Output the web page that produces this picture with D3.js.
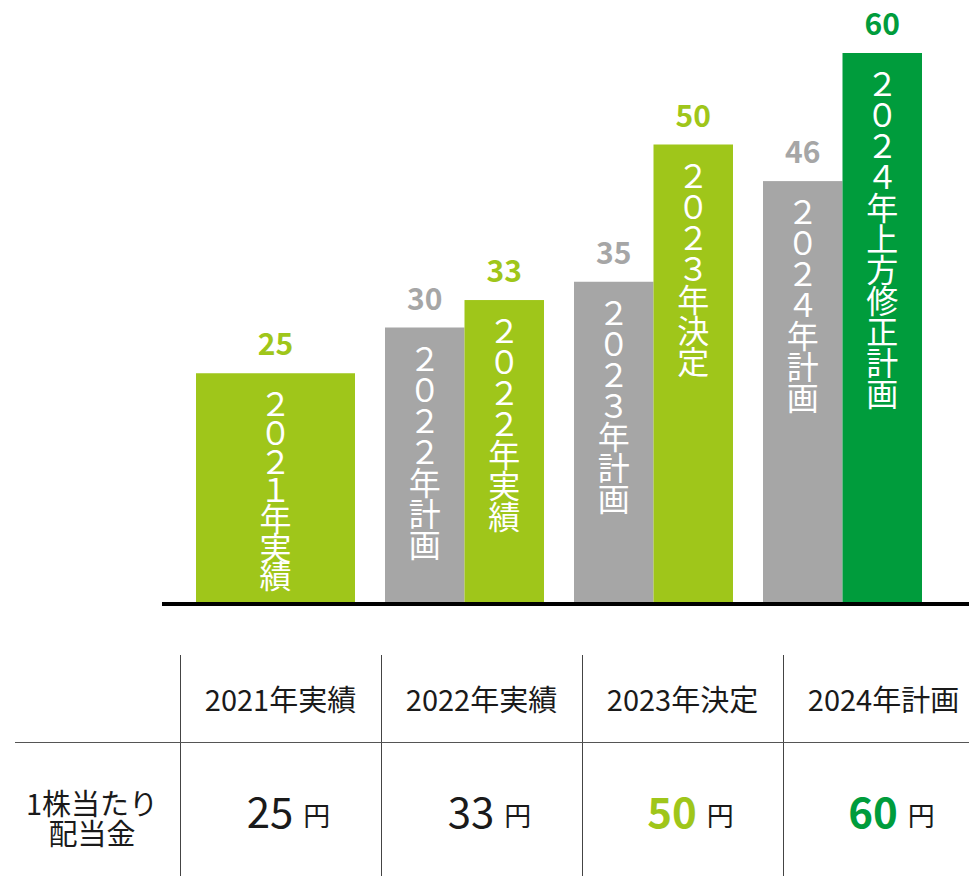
<!DOCTYPE html>
<html>
<head>
<meta charset="utf-8">
<script src="https://cdn.jsdelivr.net/npm/d3@7"></script>
<style>
  html, body { margin: 0; padding: 0; background: #fff; }
  svg { display: block; font-family: 'Noto Sans CJK JP', 'Noto Sans', sans-serif; }
</style>
</head>
<body>
<div id="chart-container"></div>
<script>
// --- data ---
const years = ['2021', '2022', '2023', '2024'];
const barYears = ['2021', '2022', '2022', '2023', '2023', '2024', '2024'];
const barLabels = ['2021年実績', '2022年計画', '2022年実績', '2023年計画', '2023年決定', '2024年計画', '2024年上方修正計画'];
const barValues = [25, 30, 33, 35, 50, 46, 60];
const barKinds = ['actual', 'plan', 'actual', 'plan', 'actual', 'plan', 'revised'];

const tableHeaders = ['2021年実績', '2022年実績', '2023年決定', '2024年計画'];
const tableValues = [25, 33, 50, 60];
const tableKinds = ['plain', 'plain', 'actual', 'revised'];
const rowLabel = ['1株当たり', '配当金'];
const unit = '円';

const COLORS = { actual: '#9fc61a', plan: '#a6a6a6', revised: '#009c3c', plain: '#1a1a1a' };

const WIDTH = 969;
const HEIGHT = 876;
const BASE_Y = 602;
const CHAR_STEP = 31;

const bars = barLabels.map((label, i) => ({
    label,
    year: barYears[i],
    value: barValues[i],
    kind: barKinds[i],
}));

// vertical text uses full-width digits
const toFullWidth = (s) => s.replace(/[0-9]/g, (c) => String.fromCharCode(c.charCodeAt(0) + 0xfee0));

const svg = d3
    .select('#chart-container')
    .append('svg')
    .attr('width', WIDTH)
    .attr('height', HEIGHT)
    .attr('viewBox', [0, 0, WIDTH, HEIGHT]);

const x = d3.scaleBand().domain(years).range([196, 922]).paddingInner(30 / 189);
const y = d3.scaleLinear().domain([0, 60]).range([BASE_Y, 53]);

// position of a bar inside its year group
const barX = (d) => {
    const siblings = bars.filter((b) => b.year === d.year);
    const sub = d3.scaleBand().domain(siblings.map((b) => b.label)).range([0, x.bandwidth()]);
    return { x0: x(d.year) + sub(d.label), w: sub.bandwidth() };
};

const barGroup = svg.append('g');
barGroup
    .selectAll('rect')
    .data(bars)
    .join('rect')
    .attr('x', (d) => barX(d).x0)
    .attr('width', (d) => barX(d).w)
    .attr('y', (d) => y(d.value))
    .attr('height', (d) => y(0) - y(d.value))
    .attr('fill', (d) => COLORS[d.kind]);

// value labels above bars
barGroup
    .selectAll('text.value')
    .data(bars)
    .join('text')
    .attr('class', 'value')
    .attr('x', (d) => barX(d).x0 + barX(d).w / 2)
    .attr('y', (d) => y(d.value) - 18)
    .attr('text-anchor', 'middle')
    .attr('font-size', 30)
    .attr('font-weight', 700)
    .attr('fill', (d) => COLORS[d.kind])
    .text((d) => d.value);

// vertical labels inside bars, one glyph at a time
const step = (d) => Math.min(CHAR_STEP, (y(0) - y(d.value) - 28) / Array.from(d.label).length);
const inner = barGroup
    .selectAll('g.inner')
    .data(bars)
    .join('g')
    .attr('class', 'inner')
    .attr('transform', (d) => `translate(${barX(d).x0 + barX(d).w / 2},${y(d.value) + 29})`);
inner
    .selectAll('text')
    .data((d) => Array.from(toFullWidth(d.label)).map((c) => ({ c, s: step(d) })))
    .join('text')
    .attr('x', 0)
    .attr('y', (e, i) => i * e.s)
    .attr('text-anchor', 'middle')
    .attr('dominant-baseline', 'central')
    .attr('font-size', 32)
    .attr('font-weight', 400)
    .attr('fill', '#fff')
    .text((e) => e.c);

// baseline
svg.append('line')
    .attr('x1', 162)
    .attr('x2', 975)
    .attr('y1', BASE_Y + 2)
    .attr('y2', BASE_Y + 2)
    .attr('stroke', '#000')
    .attr('stroke-width', 4);

// --- table ---
const col = d3.scaleBand().domain(tableHeaders).range([180, 984]);
const table = svg.append('g');

table
    .selectAll('line.v')
    .data(tableHeaders)
    .join('line')
    .attr('class', 'v')
    .attr('x1', (d) => col(d) + 0.5)
    .attr('x2', (d) => col(d) + 0.5)
    .attr('y1', 655)
    .attr('y2', HEIGHT)
    .attr('stroke', '#444')
    .attr('stroke-width', 1);

table.append('line')
    .attr('x1', 15)
    .attr('x2', WIDTH)
    .attr('y1', 742.5)
    .attr('y2', 742.5)
    .attr('stroke', '#555')
    .attr('stroke-width', 1.2);

table
    .selectAll('text.head')
    .data(tableHeaders)
    .join('text')
    .attr('class', 'head')
    .attr('x', (d) => col(d) + col.bandwidth() / 2)
    .attr('y', 711)
    .attr('text-anchor', 'middle')
    .attr('font-size', 29)
    .attr('fill', '#1a1a1a')
    .text((d) => d);

table
    .selectAll('text.row')
    .data(rowLabel)
    .join('text')
    .attr('class', 'row')
    .attr('x', 92)
    .attr('y', (d, i) => 815 + i * 30)
    .attr('text-anchor', 'middle')
    .attr('font-size', 29)
    .attr('fill', '#1a1a1a')
    .text((d) => d);

const cells = table
    .selectAll('g.cell')
    .data(tableValues.map((v, i) => ({ v, head: tableHeaders[i], kind: tableKinds[i] })))
    .join('g')
    .attr('class', 'cell');

cells.each(function (d) {
    const g = d3.select(this);
    const num = g
        .append('text')
        .attr('y', 828)
        .attr('font-size', 42)
        .attr('font-weight', d.kind === 'plain' ? 400 : 700)
        .attr('fill', COLORS[d.kind])
        .text(d.v);
    const yen = g
        .append('text')
        .attr('y', 826)
        .attr('font-size', 27)
        .attr('fill', '#1a1a1a')
        .text(unit);
    const nw = num.node().getComputedTextLength();
    const yw = yen.node().getComputedTextLength();
    const gap = 10;
    const cx = col(d.head) + col.bandwidth() / 2 + 8;
    const start = cx - (nw + gap + yw) / 2;
    num.attr('x', start);
    yen.attr('x', start + nw + gap);
});
</script>
</body>
</html>
